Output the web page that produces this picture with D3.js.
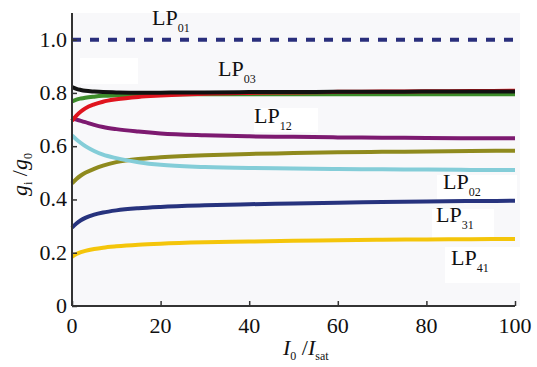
<!DOCTYPE html>
<html>
<head>
  <title>Gain ratio chart</title>
  <script src='https://cdn.jsdelivr.net/npm/d3@7/dist/d3.min.js'></script>
</head>
<body style="margin:0">
  <script>
    // x sample points (I0/Isat)
    const xs = [0, 1, 2, 3, 5, 7, 10, 15, 20, 30, 40, 50, 60, 70, 80, 90, 100];
    // gain ratio per mode
    const lp01 = [1, 1, 1, 1, 1, 1, 1, 1, 1, 1, 1, 1, 1, 1, 1, 1, 1];
    const lp03 = [0.822, 0.815, 0.811, 0.808, 0.805, 0.803, 0.802, 0.801, 0.801, 0.802, 0.803, 0.803, 0.804, 0.804, 0.805, 0.805, 0.805];
    const green = [0.768, 0.775, 0.779, 0.782, 0.786, 0.789, 0.791, 0.793, 0.794, 0.795, 0.795, 0.795, 0.795, 0.795, 0.795, 0.795, 0.795];
    const red = [0.695, 0.715, 0.73, 0.742, 0.757, 0.767, 0.776, 0.785, 0.79, 0.797, 0.80, 0.802, 0.804, 0.805, 0.806, 0.807, 0.808];
    const lp12 = [0.705, 0.70, 0.695, 0.69, 0.68, 0.672, 0.664, 0.655, 0.648, 0.641, 0.637, 0.635, 0.633, 0.632, 0.631, 0.63, 0.63];
    const lp02 = [0.64, 0.625, 0.612, 0.60, 0.582, 0.568, 0.555, 0.54, 0.53, 0.522, 0.518, 0.516, 0.514, 0.513, 0.512, 0.511, 0.511];
    const olive = [0.46, 0.477, 0.49, 0.50, 0.515, 0.527, 0.54, 0.552, 0.558, 0.566, 0.571, 0.574, 0.577, 0.579, 0.58, 0.582, 0.583];
    const lp31 = [0.294, 0.31, 0.322, 0.331, 0.343, 0.351, 0.359, 0.367, 0.372, 0.378, 0.382, 0.385, 0.388, 0.39, 0.392, 0.394, 0.395];
    const lp41 = [0.185, 0.195, 0.202, 0.207, 0.214, 0.219, 0.224, 0.23, 0.234, 0.239, 0.242, 0.245, 0.247, 0.249, 0.25, 0.251, 0.252];
    const xTicks = [0, 20, 40, 60, 80, 100];
    const yTicks = [0, 0.2, 0.4, 0.6, 0.8, 1.0];

    const series = [
      { name: "olive", values: olive, color: "#8f8a1e" },
      { name: "lp02", values: lp02, color: "#84cdd8" },
      { name: "lp12", values: lp12, color: "#7d1a70" },
      { name: "green", values: green, color: "#3c8c2a" },
      { name: "red", values: red, color: "#e0141e" },
      { name: "lp03", values: lp03, color: "#111111" },
      { name: "lp31", values: lp31, color: "#27337e" },
      { name: "lp41", values: lp41, color: "#f4c50a" }
    ];

    const W = 537, H = 367;
    const margins = { left: 72, top: 13, right: 22, bottom: 61 };
    const width = W - margins.left - margins.right;
    const height = H - margins.top - margins.bottom;

    const svg = d3.select("body").append("svg")
      .attr("width", W).attr("height", H);
    const g = svg.append("g")
      .attr("transform", `translate(${margins.left},${margins.top})`);

    const xScale = d3.scaleLinear().domain([0, 100]).range([0, width]);
    const yScale = d3.scaleLinear().domain([0, 1.1]).range([height, 0]);

    // plot background
    g.append("rect")
      .attr("x", 0).attr("y", 0)
      .attr("width", width + 5).attr("height", height)
      .attr("fill", "#f8f8fa");

    // white boxes behind the labels
    const boxes = [[8, 45, 58, 26], [182, 95, 64, 24], [365, 162, 80, 28], [360, 196, 62, 30], [373, 234, 76, 36]];
    g.selectAll(".box").data(boxes).join("rect")
      .attr("x", d => d[0]).attr("y", d => d[1])
      .attr("width", d => d[2]).attr("height", d => d[3])
      .attr("fill", "#fff");

    const line = d3.line()
      .x((d, i) => xScale(xs[i]))
      .y(d => yScale(d))
      .curve(d3.curveMonotoneX);

    g.selectAll(".curve").data(series).join("path")
      .attr("d", d => line(d.values))
      .attr("fill", "none")
      .attr("stroke", d => d.color)
      .attr("stroke-width", 4);

    // LP01 dashed line
    g.append("path")
      .attr("d", line(lp01))
      .attr("fill", "none")
      .attr("stroke", "#2a2f7c")
      .attr("stroke-width", 4)
      .attr("stroke-dasharray", "9,9");

    // axes, ticks pointing inward
    const axisColor = "#333";
    const xMinor = d3.range(0, 101, 5);
    const yMinor = d3.range(0, 1.101, 0.05);
    const xAxisG = g.append("g").attr("transform", `translate(0,${height})`);
    xAxisG.call(d3.axisBottom(xScale).tickValues(xMinor).tickSize(-3).tickFormat(""));
    xAxisG.call(d3.axisBottom(xScale).tickValues(xTicks).tickSize(-5).tickFormat(""));
    const yAxisG = g.append("g");
    yAxisG.call(d3.axisLeft(yScale).tickValues(yMinor).tickSize(-3).tickFormat(""));
    yAxisG.call(d3.axisLeft(yScale).tickValues(yTicks).tickSize(-5).tickFormat(""));
    g.selectAll(".domain").attr("stroke", axisColor).attr("stroke-width", 2);
    g.selectAll(".tick line").attr("stroke", axisColor).attr("stroke-width", 1.5);
    g.selectAll(".domain").attr("d", function () {
      return this.parentNode === xAxisG.node()
        ? `M0,0H${width}` : `M0,0V${height}`;
    });

    // every text goes through this helper
    function addText(parent, x, y, size) {
      return parent.append("text")
        .attr("x", x).attr("y", y)
        .attr("font-size", size)
        .style("font-family", `"Liberation Serif"`)
        .attr("fill", "#111");
    }

    // tick labels
    xTicks.forEach(t => addText(g, xScale(t), height + 27, 22)
      .attr("text-anchor", "middle").text(t));
    yTicks.forEach(t => addText(g, -5, yScale(t) + 7, 22)
      .attr("text-anchor", "end").text(t === 0 ? "0" : d3.format(".1f")(t)));

    // curve labels
    const labelSubs = ["01", "03", "12", "02", "31", "41"];
    const labelX = [152, 218, 254, 443, 436, 451];
    const labelY = [25, 76, 123, 189, 222, 265];
    labelSubs.forEach((s, i) => {
      const t = addText(svg, labelX[i], labelY[i], 22);
      t.append("tspan").text("LP");
      t.append("tspan").attr("dy", 7).attr("font-size", 12).text(s);
    });

    // axis titles
    const xt = addText(svg, 283, 355, 22);
    xt.append("tspan").attr("font-style", "italic").text("I");
    xt.append("tspan").attr("dy", 5).attr("font-size", 12).text("0");
    xt.append("tspan").attr("dy", -5).text(" /");
    xt.append("tspan").attr("font-style", "italic").text("I");
    xt.append("tspan").attr("dy", 5).attr("font-size", 12).text("sat");

    const yt = addText(svg, 0, 0, 22)
      .attr("transform", "translate(27,196) rotate(-90)");
    yt.append("tspan").attr("font-style", "italic").text("g");
    yt.append("tspan").attr("dy", 5).attr("font-size", 12).text("i");
    yt.append("tspan").attr("dy", -5).text(" /");
    yt.append("tspan").attr("font-style", "italic").text("g");
    yt.append("tspan").attr("dy", 5).attr("font-size", 12).text("0");
  </script>
</body>
</html>
